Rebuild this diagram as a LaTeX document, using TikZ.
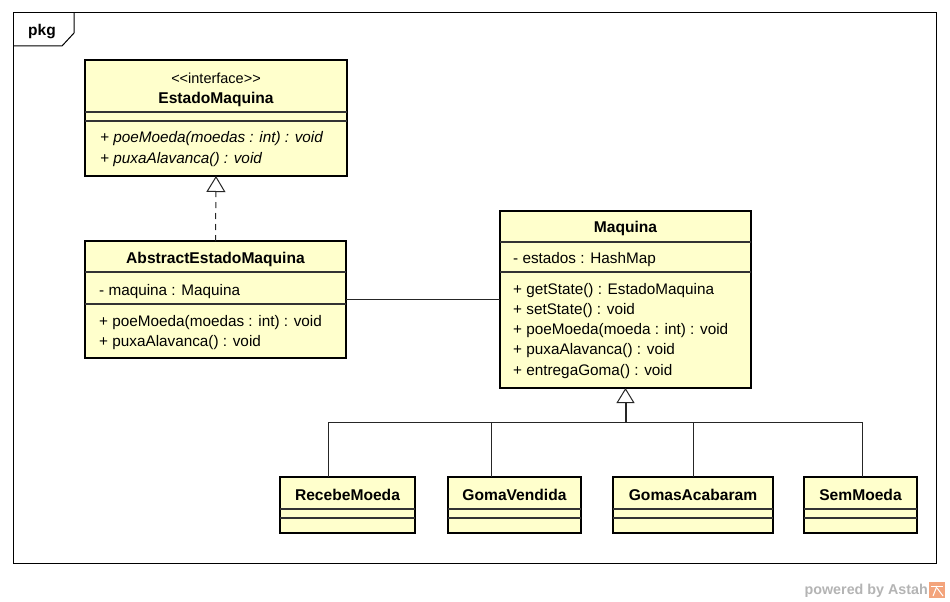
\documentclass[tikz,border=0pt]{standalone}
\usepackage{fontspec}
\setmainfont{Liberation Sans}
\usetikzlibrary{arrows.meta,calc}
\definecolor{classfill}{HTML}{FFFFCC}
\definecolor{wmgray}{HTML}{B4B4B4}
\definecolor{astahorange}{HTML}{F3A47C}
\begin{document}
\begin{tikzpicture}[x=1pt,y=-1pt,
  classbox/.style={draw=black, line width=2.6pt, fill=classfill, rectangle, inner sep=0pt, outer sep=0pt},
  sep/.style={line width=1.1pt, draw=black!80},
  cname/.style={font=\fontsize{15.6}{18}\selectfont\bfseries, inner sep=0pt, anchor=base},
  member/.style={font=\fontsize{15.3}{18}\selectfont, inner sep=0pt, anchor=base west},
  stereo/.style={font=\fontsize{14.5}{18}\selectfont, inner sep=0pt, anchor=base},
  conn/.style={line width=1pt, draw=black!85},
  realize/.style={conn, dash pattern=on 6pt off 5pt, -{Triangle[open, length=16pt, width=19pt, fill=white, line width=1pt]}},
  inherit/.style={conn, -{Triangle[open, length=15pt, width=18pt, fill=white, line width=1pt]}}
]
\useasboundingbox[fill=white] (0,0) rectangle (950,602);

% package frame
\draw[line width=1pt] (13,13) rectangle (936,563);
\draw[line width=1pt] (13,46) -- (62,46) -- (74,33) -- (74,13);
\node[font=\fontsize{15.5}{18}\selectfont\bfseries, inner sep=0pt, anchor=base] (pkg) at (42,36) {pkg};

% EstadoMaquina (interface)
\node[classbox, minimum width=262pt, minimum height=116pt] (E) at (216,118) {};
\draw[sep] (E.west |- 0,112) -- (E.east |- 0,112);
\draw[sep] (E.west |- 0,121) -- (E.east |- 0,121);
\node[stereo] (Es) at (216,83.5) {<{}<interface>{}>};
\node[cname] (En) at (216,103.5) {EstadoMaquina};
\node[member, font=\fontsize{15.3}{18}\selectfont\itshape] (Em1) at (100,142.5) {+ poeMoeda(moedas : int) : void};
\node[member, font=\fontsize{15.3}{18}\selectfont\itshape] (Em2) at (100,163.5) {+ puxaAlavanca() : void};

% AbstractEstadoMaquina
\node[classbox, minimum width=261pt, minimum height=117pt] (A) at (215.5,299.5) {};
\draw[sep] (A.west |- 0,272) -- (A.east |- 0,272);
\draw[sep] (A.west |- 0,304) -- (A.east |- 0,304);
\node[cname] (An) at (215.5,263.5) {AbstractEstadoMaquina};
\node[member] (Aa1) at (99,295.5) {- maquina : Maquina};
\node[member] (Am1) at (99,326) {+ poeMoeda(moedas : int) : void};
\node[member] (Am2) at (99,346) {+ puxaAlavanca() : void};

% Maquina
\node[classbox, minimum width=251pt, minimum height=177pt] (M) at (625.5,299.5) {};
\draw[sep] (M.west |- 0,242) -- (M.east |- 0,242);
\draw[sep] (M.west |- 0,272) -- (M.east |- 0,272);
\node[cname] (Mn) at (625.5,232.5) {Maquina};
\node[member] (Ma1) at (513,263.5) {- estados : HashMap};
\node[member] (Mm1) at (513,294.5) {+ getState() : EstadoMaquina};
\node[member] (Mm2) at (513,314.5) {+ setState() : void};
\node[member] (Mm3) at (513,334.5) {+ poeMoeda(moeda : int) : void};
\node[member] (Mm4) at (513,354.5) {+ puxaAlavanca() : void};
\node[member] (Mm5) at (513,375) {+ entregaGoma() : void};

% concrete states
\node[classbox, minimum width=135pt, minimum height=56pt] (R) at (347.5,505) {};
\node[classbox, minimum width=133pt, minimum height=56pt] (G) at (514.5,505) {};
\node[classbox, minimum width=160pt, minimum height=56pt] (GA) at (693,505) {};
\node[classbox, minimum width=113pt, minimum height=56pt] (S) at (860.5,505) {};
\foreach \b in {R,G,GA,S}{
  \draw[sep] (\b.west |- 0,509) -- (\b.east |- 0,509);
  \draw[sep] (\b.west |- 0,518) -- (\b.east |- 0,518);
}
\node[cname] (Rn) at (347.5,500) {RecebeMoeda};
\node[cname] (Gn) at (514.5,500) {GomaVendida};
\node[cname] (GAn) at (693,500) {GomasAcabaram};
\node[cname] (Sn) at (860.5,500) {SemMoeda};

% connectors
\draw[realize] (A.north) -- (E.south);
\draw[conn] (A.east) -- (M.west);

\coordinate (busy) at (0,422);
\coordinate (bus) at (M.south |- busy);
\coordinate (trunk) at ($(M.south)+(0,15)$);
\draw[conn] ([xshift=-19.5pt]R.north) |- (bus);
\draw[conn] ([xshift=-23.5pt]G.north) |- (bus);
\draw[conn] (GA.north) |- (bus);
\draw[conn] ([xshift=1.5pt]S.north) |- (bus);
\draw[conn, line width=2pt] (bus) -- (trunk);
\draw[inherit] (trunk) -- (M.south);

% watermark
\node[font=\fontsize{14.3}{16}\selectfont\bfseries, text=wmgray, inner sep=0pt, anchor=base east] (wm) at (928,594) {powered by Astah};
\fill[astahorange] (929,582) rectangle (945,598);
\draw[white, line width=1pt] (931,586) -- (943,586);
\draw[white, line width=1pt] (937,586) -- (933,596);
\draw[white, line width=1pt] (937,588) -- (943,596);
\end{tikzpicture}
\end{document}
